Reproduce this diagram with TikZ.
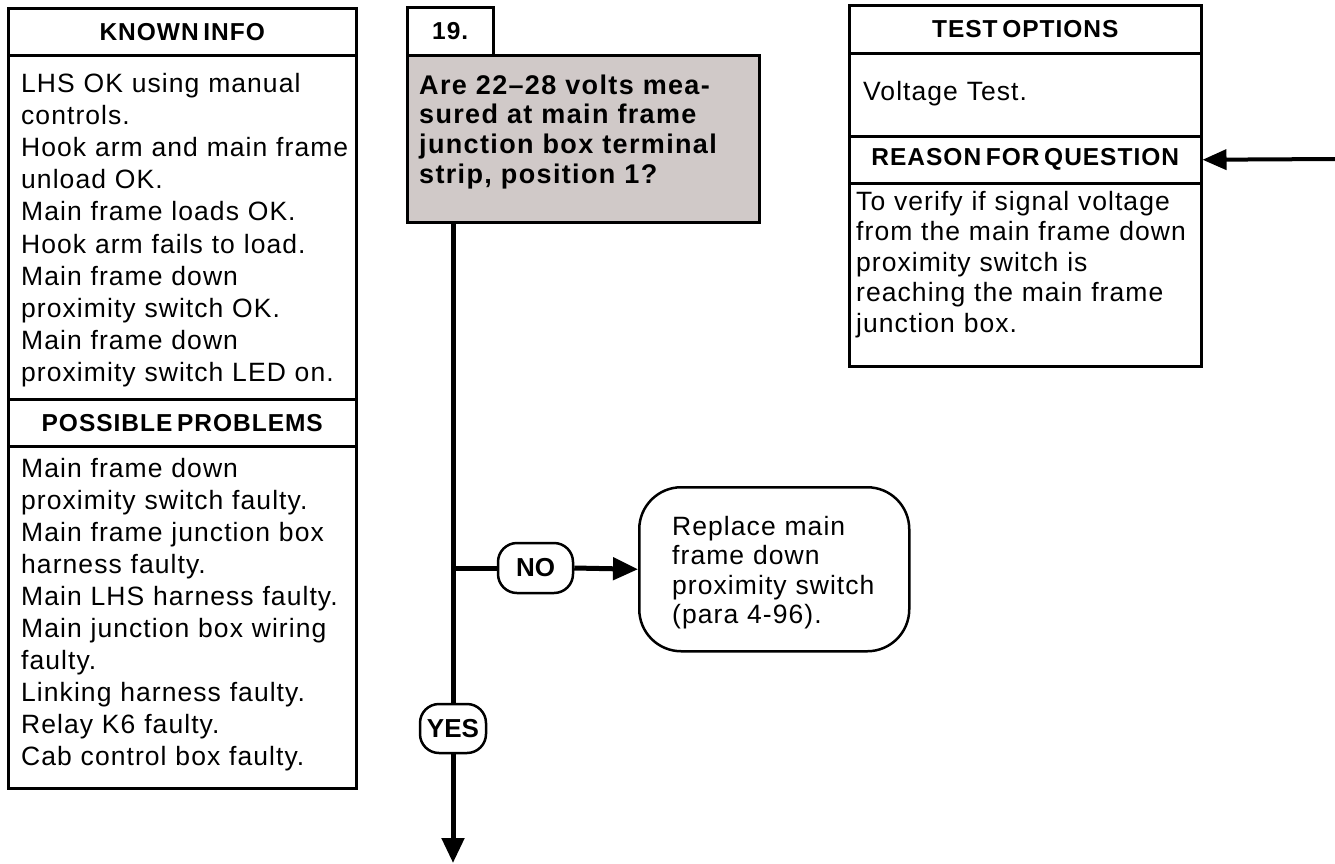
\documentclass[tikz,border=0pt]{standalone}
\usepackage{fontspec}
\setmainfont{Liberation Sans}
\newfontfamily\bodyf{Liberation Sans}[LetterSpace=4]
\newfontfamily\hdrf{Liberation Sans}[LetterSpace=4,WordSpace=0.6]
\newfontfamily\qf{Liberation Sans}[LetterSpace=5]
\newfontfamily\lblf{Liberation Sans}
\usetikzlibrary{arrows.meta}
\definecolor{qgray}{RGB}{208,201,200}
\begin{document}
\begin{tikzpicture}[x=1pt,y=-1pt,
  box/.style={draw=black, line width=2.5pt, inner sep=0pt, anchor=north west},
  hdr/.style={font=\hdrf\bfseries\fontsize{24.5}{28}\selectfont},
  body/.style={font=\bodyf\fontsize{26.5}{32.2}\selectfont, anchor=base west, align=left, text width=345pt, inner sep=0pt},
  qtext/.style={font=\qf\bfseries\fontsize{27}{29.7}\selectfont, anchor=base west, align=left, text width=345pt, inner sep=0pt},
  pill/.style={draw=black, line width=2.5pt, rounded corners=19pt, inner sep=0pt, font=\lblf\bfseries\fontsize{26}{28}\selectfont},
  conn/.style={line width=5pt},
  tip/.style={-{Triangle[length=25pt,width=22pt]}}
]
\useasboundingbox (0,0) rectangle (1335,863);
\fill[white] (0,0) rectangle (1335,863);

% KNOWN INFO / POSSIBLE PROBLEMS column
\node[box, minimum width=348pt, minimum height=47pt, hdr] (kihead) at (7,7) {KNOWN INFO};
\node[box, minimum width=348pt, minimum height=344pt] (kibody) at (7,54) {};
\node[box, minimum width=348pt, minimum height=47pt, hdr] (pphead) at (7,398) {POSSIBLE PROBLEMS};
\node[box, minimum width=348pt, minimum height=342pt] (ppbody) at (7,445) {};
\node[body] (kitext) at (21,92) {LHS OK using manual\\controls.\\Hook arm and main frame\\unload OK.\\Main frame loads OK.\\Hook arm fails to load.\\Main frame down\\proximity switch OK.\\Main frame down\\proximity switch LED on.};
\node[body, font=\bodyf\fontsize{26.5}{32}\selectfont] (pptext) at (21,477) {Main frame down\\proximity switch faulty.\\Main frame junction box\\harness faulty.\\Main LHS harness faulty.\\Main junction box wiring\\faulty.\\Linking harness faulty.\\Relay K6 faulty.\\Cab control box faulty.};

% Question
\node[box, minimum width=86pt, minimum height=48pt, hdr] (num) at (406,6) {19.};
\node[box, fill=qgray, minimum width=352pt, minimum height=167pt] (q) at (406,54) {};
\node[qtext] (qtxt) at (419,94) {Are 22–28 volts mea-\\sured at main frame\\junction box terminal\\strip, position 1?};

% Test options / reason
\node[box, minimum width=352pt, minimum height=48pt, hdr] (tohead) at (848,4) {TEST OPTIONS};
\node[box, minimum width=352pt, minimum height=83pt] (tobody) at (848,52) {};
\node[box, minimum width=352pt, minimum height=47pt, hdr] (rhead) at (848,135) {REASON FOR QUESTION};
\node[box, minimum width=352pt, minimum height=183pt] (rbody) at (848,182) {};
\node[body] (totext) at (863,100) {Voltage Test.};
\node[body, font=\bodyf\fontsize{26.5}{30.5}\selectfont] (rtext) at (856,210) {To verify if signal voltage\\from the main frame down\\proximity switch is\\reaching the main frame\\junction box.};

% Replace box
\node[box, rounded corners=42pt, minimum width=270pt, minimum height=164pt] (rep) at (638,486) {};
\node[body, font=\bodyf\fontsize{26.5}{29.5}\selectfont] (reptext) at (672,535) {Replace main\\frame down\\proximity switch\\(para 4-96).};

% Labels
\node[pill, minimum width=75pt, minimum height=50pt] (no) at (535.5,568) {NO};
\node[pill, minimum width=66pt, minimum height=49pt] (yes) at (453,728.5) {YES};

% Connectors
\coordinate (br) at (453,568);
\coordinate (endpt) at (453,863);
\coordinate (src) at (1335,159);
\draw[conn] (yes.north |- q.south) -- (yes.north);
\draw[conn, tip] (yes.south) -- (endpt);
\draw[conn] (br) -- (no.west);
\draw[conn, tip] (no.east) -- (rep.west);
\draw[line width=4pt, -{Triangle[length=24pt,width=20pt]}] (src) -- (rhead.east);
\end{tikzpicture}
\end{document}
